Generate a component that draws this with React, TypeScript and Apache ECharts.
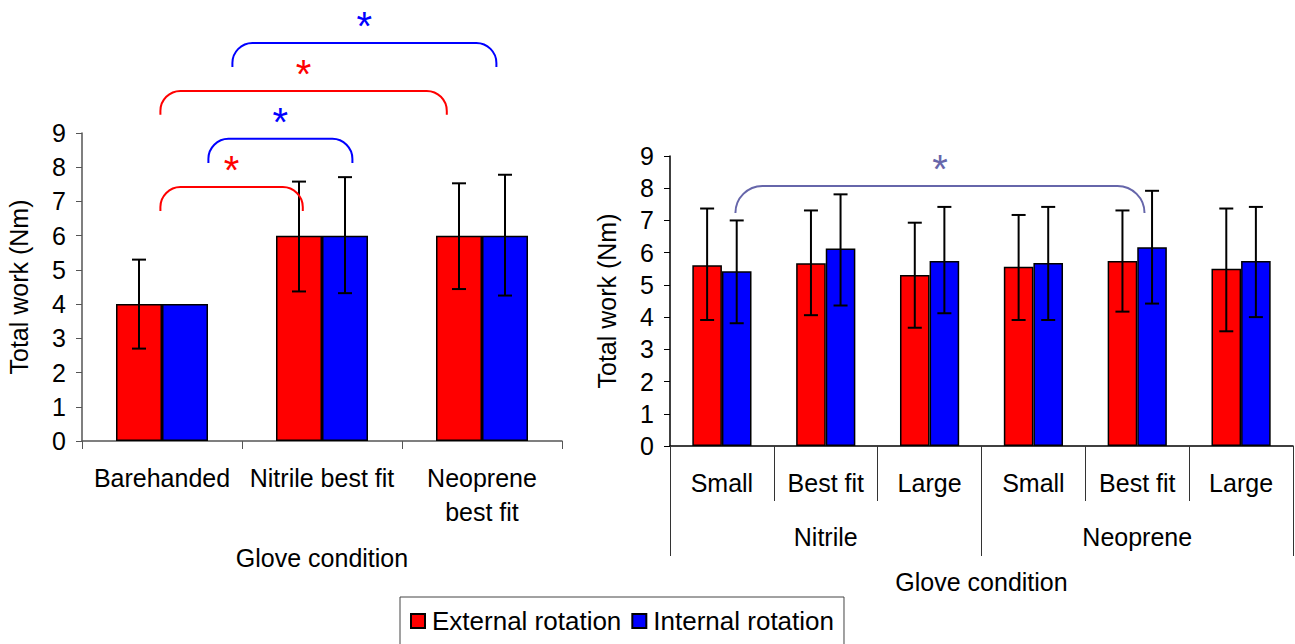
import React, { useEffect, useRef } from 'react';
import * as echarts from 'echarts';

const FONT = 'Liberation Sans, Arial, sans-serif';

// Left chart
const leftCats = ['Barehanded', 'Nitrile best fit', 'Neoprene\nbest fit'];
const leftExternal = [4.0, 6.0, 6.0];
const leftInternal = [4.0, 6.0, 6.0];
const leftExternalErr: ([number, number] | null)[] = [[2.7, 5.3], [4.37, 7.58], [4.44, 7.53]];
const leftInternalErr: ([number, number] | null)[] = [null, [4.32, 7.71], [4.25, 7.78]];

// Right chart
const rightCats = ['Small', 'Best fit', 'Large', 'Small', 'Best fit', 'Large'];
const rightGroups = ['Nitrile', 'Neoprene'];
const rightExternal = [5.61, 5.67, 5.31, 5.56, 5.74, 5.5];
const rightInternal = [5.42, 6.13, 5.74, 5.68, 6.17, 5.74];
const rightExternalErr: ([number, number] | null)[] = [[3.91, 7.37], [4.06, 7.31], [3.67, 6.93], [3.91, 7.17], [4.17, 7.31], [3.56, 7.37]];
const rightInternalErr: ([number, number] | null)[] = [[3.81, 7.0], [4.36, 7.81], [4.12, 7.42], [3.91, 7.42], [4.42, 7.92], [4.0, 7.42]];

const yTicks = [0, 9, 1]; // min, max, interval

// significance brackets: [x start, x end, top, leg bottom] in category units / data values
const leftBrackets = [
  { value: [0.49, 1.38, 7.42, 6.72], color: '#ff0000' },
  { value: [0.79, 1.69, 8.83, 8.12], color: '#0000ff' },
  { value: [0.49, 2.28, 10.23, 9.53], color: '#ff0000' },
  { value: [0.94, 2.59, 11.63, 10.93], color: '#0000ff' },
];
const rightBrackets = [{ value: [0.63, 4.57, 8.07, 7.23], color: '#6666aa' }];

const RED = '#ff0000';
const BLUE = '#0000ff';

const errData = (errs: ([number, number] | null)[]) =>
  errs.map((e, i) => (e ? [i, e[0], e[1]] : null)).filter((d) => d !== null);

const makeErr = (side: number, gap: number, cap: number) => (params: any, api: any) => {
  const cat = api.value(0);
  const lo = api.value(1);
  const hi = api.value(2);
  const band = api.size([1, 0])[0];
  const bw = (band * (1 - gap)) / 2;
  const top = api.coord([cat, hi]);
  const bot = api.coord([cat, lo]);
  const x = top[0] + (side * bw) / 2;
  const st = { stroke: '#000', lineWidth: 2 };
  return {
    type: 'group',
    children: [
      { type: 'line', shape: { x1: x, y1: top[1], x2: x, y2: bot[1] }, style: st },
      { type: 'line', shape: { x1: x - cap, y1: top[1], x2: x + cap, y2: top[1] }, style: st },
      { type: 'line', shape: { x1: x - cap, y1: bot[1], x2: x + cap, y2: bot[1] }, style: st },
    ],
  };
};

const makeBracket = (r: number) => (params: any, api: any) => {
  const x0 = api.value(0);
  const x1 = api.value(1);
  const yt = api.value(2);
  const yl = api.value(3);
  const a = api.coord([x0, yl]);
  const t = api.coord([x0, yt]);
  const b = api.coord([x1, yl]);
  const color = api.visual('color');
  const k = 0.45;
  const d =
    `M${a[0]},${a[1]} L${a[0]},${t[1] + r} ` +
    `C${a[0]},${t[1] + r * k} ${a[0] + r * k},${t[1]} ${a[0] + r},${t[1]} ` +
    `L${b[0] - r},${t[1]} ` +
    `C${b[0] - r * k},${t[1]} ${b[0]},${t[1] + r * k} ${b[0]},${t[1] + r} ` +
    `L${b[0]},${b[1]}`;
  return {
    type: 'group',
    children: [
      { type: 'path', shape: { pathData: d }, style: { fill: 'none', stroke: color, lineWidth: 2 } },
      {
        type: 'text',
        x: (a[0] + b[0]) / 2,
        y: t[1] - 22 + 5,
        style: { text: '*', fill: color, fontSize: 40, fontFamily: FONT, align: 'center', verticalAlign: 'middle' },
      },
    ],
  };
};

const FS = 25;
const labelStyle = { fontSize: FS, color: '#000', fontFamily: FONT };

const yAxisCommon = (gridIndex: number, color: string) => ({
  gridIndex,
  type: 'value',
  min: yTicks[0],
  max: yTicks[1],
  interval: yTicks[2],
  splitLine: { show: false },
  axisLine: { show: true, lineStyle: { color, width: 1.5 } },
  axisTick: { show: true, length: 6, lineStyle: { color } },
  axisLabel: { ...labelStyle, margin: 16 },
  name: 'Total work (Nm)',
  nameLocation: 'middle',
  nameGap: 51,
  nameTextStyle: labelStyle,
});

const option: any = {
  animation: false,
  textStyle: { fontFamily: FONT },
  grid: [
    { left: 82, top: 133, width: 480, height: 308 },
    { left: 670, top: 156, width: 623, height: 290 },
  ],
  legend: {
    left: 400,
    top: 597,
    data: ['External rotation', 'Internal rotation'],
    icon: 'rect',
    itemWidth: 14,
    itemHeight: 14,
    itemGap: 10,
    borderColor: '#444',
    borderWidth: 1,
    borderRadius: 0,
    padding: [11, 10, 20, 10],
    textStyle: { ...labelStyle, fontSize: 26, padding: [0, 0, 0, 2] },
  },
  xAxis: [
    {
      gridIndex: 0,
      type: 'category',
      data: leftCats,
      axisLine: { lineStyle: { color: '#555', width: 1.5 } },
      axisTick: { show: true, length: 8, interval: 0, lineStyle: { color: '#555' } },
      axisLabel: { ...labelStyle, margin: 20, lineHeight: 34, interval: 0 },
      name: 'Glove condition',
      nameLocation: 'middle',
      nameGap: 104,
      nameTextStyle: labelStyle,
    },
    {
      gridIndex: 1,
      type: 'category',
      data: rightCats,
      position: 'bottom',
      axisLine: { lineStyle: { color: '#000', width: 1.5 } },
      axisTick: { show: true, length: 55, interval: 0, lineStyle: { color: '#333' } },
      axisLabel: { ...labelStyle, margin: 24, interval: 0 },
    },
    {
      gridIndex: 1,
      type: 'category',
      data: rightGroups,
      position: 'bottom',
      axisLine: { show: false },
      axisTick: { show: true, length: 110, interval: 0, lineStyle: { color: '#333' } },
      axisLabel: { ...labelStyle, margin: 78, interval: 0 },
      name: 'Glove condition',
      nameLocation: 'middle',
      nameGap: 123,
      nameTextStyle: labelStyle,
    },
    { gridIndex: 0, type: 'value', min: 0, max: 3, show: false, position: 'top' },
    { gridIndex: 1, type: 'value', min: 0, max: 6, show: false, position: 'top' },
  ],
  yAxis: [yAxisCommon(0, '#555'), yAxisCommon(1, '#000')],
  series: [
    {
      name: 'External rotation',
      type: 'bar',
      xAxisIndex: 0,
      yAxisIndex: 0,
      data: leftExternal,
      barGap: '0%',
      barCategoryGap: '42.5%',
      itemStyle: { color: RED, borderColor: '#000', borderWidth: 1.5 },
    },
    {
      name: 'Internal rotation',
      type: 'bar',
      xAxisIndex: 0,
      yAxisIndex: 0,
      data: leftInternal,
      barGap: '0%',
      barCategoryGap: '42.5%',
      itemStyle: { color: BLUE, borderColor: '#000', borderWidth: 1.5 },
    },
    {
      name: 'External rotation',
      type: 'bar',
      xAxisIndex: 1,
      yAxisIndex: 1,
      data: rightExternal,
      barGap: '0%',
      barCategoryGap: '43%',
      itemStyle: { color: RED, borderColor: '#000', borderWidth: 1.5 },
    },
    {
      name: 'Internal rotation',
      type: 'bar',
      xAxisIndex: 1,
      yAxisIndex: 1,
      data: rightInternal,
      barGap: '0%',
      barCategoryGap: '43%',
      itemStyle: { color: BLUE, borderColor: '#000', borderWidth: 1.5 },
    },
    {
      name: 'errL1', type: 'custom', xAxisIndex: 0, yAxisIndex: 0, z: 5,
      renderItem: makeErr(-1, 0.425, 7), data: errData(leftExternalErr), encode: { x: 0, y: [1, 2] },
    },
    {
      name: 'errL2', type: 'custom', xAxisIndex: 0, yAxisIndex: 0, z: 5,
      renderItem: makeErr(1, 0.425, 7), data: errData(leftInternalErr), encode: { x: 0, y: [1, 2] },
    },
    {
      name: 'errR1', type: 'custom', xAxisIndex: 1, yAxisIndex: 1, z: 5,
      renderItem: makeErr(-1, 0.43, 7), data: errData(rightExternalErr), encode: { x: 0, y: [1, 2] },
    },
    {
      name: 'errR2', type: 'custom', xAxisIndex: 1, yAxisIndex: 1, z: 5,
      renderItem: makeErr(1, 0.43, 7), data: errData(rightInternalErr), encode: { x: 0, y: [1, 2] },
    },
    {
      name: 'bracketsL', type: 'custom', xAxisIndex: 3, yAxisIndex: 0, z: 6, clip: false,
      renderItem: makeBracket(20),
      data: leftBrackets.map((b) => ({ value: b.value, itemStyle: { color: b.color } })),
      encode: { x: [0, 1], y: [2, 3] },
    },
    {
      name: 'bracketsR', type: 'custom', xAxisIndex: 4, yAxisIndex: 1, z: 6, clip: false,
      renderItem: makeBracket(27),
      data: rightBrackets.map((b) => ({ value: b.value, itemStyle: { color: b.color } })),
      encode: { x: [0, 1], y: [2, 3] },
    },
  ],
};

export default function App() {
  const ref = useRef<HTMLDivElement>(null);
  useEffect(() => {
    const chart = echarts.init(ref.current!, null, { renderer: 'svg' });
    chart.setOption(option);
    return () => chart.dispose();
  }, []);
  return (
    <div
      ref={ref}
      style={{ position: 'fixed', left: 0, top: 0, width: 1295, height: 644, background: '#fff' }}
    />
  );
}
